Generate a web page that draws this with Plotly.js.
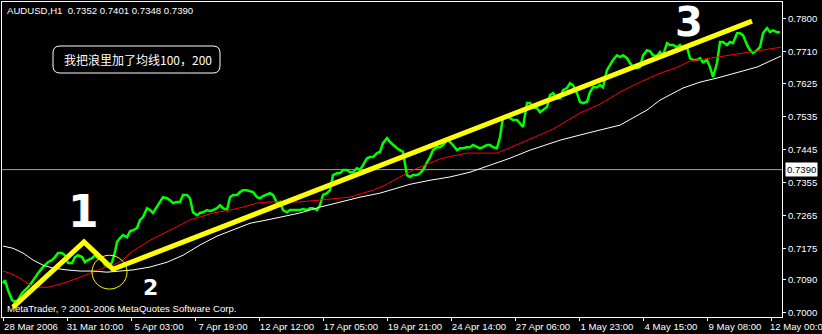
<!DOCTYPE html>
<html><head><meta charset="utf-8">
<script src="https://cdn.plot.ly/plotly-3.0.1.min.js"></script>
<style>html,body{margin:0;padding:0;background:#000;} #chart{width:822px;height:334px;}</style>
</head><body><div id="chart"></div>
<script>
// ---- data (bar index, price) ----
const priceBars = [3,5,8,10,12,15,18,22,25,28,
 32,35,38,42,45,48,52,55,58,62,
 65,68,72,75,78,82,85,88,92,95,
 98,102,105,108,110,112,115,117,120,123,
 127,130,133,137,140,143,147,150,153,157,
 160,163,167,170,173,177,180,183,187,190,
 193,197,200,203,207,210,213,217,220,223,
 227,230,233,237,240,243,247,250,253,257,
 260,263,267,270,273,277,280,283,287,290,
 293,297,300,303,307,310,313,317,320,323,
 327,330,333,337,340,343,347,350,353,357,
 360,363,367,370,373,377,380,383,387,390,
 393,397,400,403,407,410,413,417,420,423,
 427,430,433,437,440,443,447,450,453,457,
 460,463,467,470,473,477,480,483,487,490,
 493,497,500,503,507,510,513,517,520,523,
 527,530,533,537,540,543,547,550,553,557,
 560,563,567,570,573,577,580,583,587,590,
 593,597,600,603,607,610,613,617,620,623,
 627,630,633,637,640,643,647,650,653,657,
 660,663,667,670,673,677,680,683,687,690,
 693,697,700,703,707,710,713,717,720,723,
 727,730,733,737,740,743,747,750,753,757,
 760,763,767,770,773,777,780];
const priceClose = [0.7081,0.7089,0.7062,0.7049,0.7035,0.7030,0.7035,0.7054,0.7062,0.7070,
 0.7084,0.7097,0.7108,0.7122,0.7130,0.7138,0.7144,0.7152,0.7163,0.7163,
 0.7157,0.7136,0.7136,0.7152,0.7157,0.7152,0.7138,0.7144,0.7149,0.7157,
 0.7149,0.7144,0.7130,0.7125,0.7130,0.7138,0.7166,0.7193,0.7204,0.7212,
 0.7206,0.7222,0.7225,0.7231,0.7253,0.7261,0.7285,0.7280,0.7272,0.7288,
 0.7302,0.7315,0.7312,0.7307,0.7299,0.7302,0.7302,0.7321,0.7321,0.7312,
 0.7274,0.7266,0.7272,0.7274,0.7280,0.7277,0.7280,0.7285,0.7293,0.7285,
 0.7280,0.7315,0.7321,0.7321,0.7329,0.7334,0.7334,0.7332,0.7329,0.7315,
 0.7312,0.7318,0.7323,0.7326,0.7321,0.7299,0.7302,0.7280,0.7274,0.7280,
 0.7280,0.7280,0.7280,0.7283,0.7280,0.7285,0.7285,0.7280,0.7293,0.7321,
 0.7326,0.7334,0.7375,0.7380,0.7380,0.7389,0.7389,0.7383,0.7383,0.7394,
 0.7389,0.7402,0.7421,0.7424,0.7424,0.7435,0.7438,0.7462,0.7476,0.7465,
 0.7457,0.7448,0.7443,0.7438,0.7375,0.7370,0.7375,0.7375,0.7380,0.7389,
 0.7410,0.7424,0.7443,0.7451,0.7451,0.7457,0.7470,0.7465,0.7457,0.7443,
 0.7448,0.7448,0.7451,0.7451,0.7457,0.7451,0.7448,0.7451,0.7457,0.7457,
 0.7451,0.7448,0.7478,0.7533,0.7538,0.7530,0.7525,0.7525,0.7516,0.7506,
 0.7571,0.7571,0.7560,0.7557,0.7546,0.7552,0.7560,0.7593,0.7598,0.7584,
 0.7584,0.7606,0.7612,0.7625,0.7620,0.7598,0.7574,0.7571,0.7574,0.7601,
 0.7614,0.7614,0.7620,0.7614,0.7661,0.7674,0.7688,0.7701,0.7696,0.7701,
 0.7693,0.7680,0.7669,0.7666,0.7669,0.7701,0.7715,0.7712,0.7701,0.7699,
 0.7710,0.7701,0.7734,0.7729,0.7729,0.7723,0.7729,0.7720,0.7723,0.7693,
 0.7688,0.7688,0.7693,0.7682,0.7688,0.7669,0.7642,0.7680,0.7737,0.7737,
 0.7729,0.7737,0.7734,0.7761,0.7761,0.7756,0.7729,0.7715,0.7707,0.7715,
 0.7723,0.7761,0.7775,0.7764,0.7769,0.7764,0.7764];

const ma100Bars = [3,10,20,30,38,48,57,67,80,93,103,113,123,130,150,170,190,200,213,230,243,257,270,300,320,333,350,363,373,383,393,400,413,427,440,453,467,483,497,507,517,530,553,580,600,620,640,660,675,690,717,750,781];
const ma100 = [0.7114,0.7108,0.7095,0.7076,0.7070,0.7070,0.7076,0.7084,0.7097,0.7111,0.7122,0.7130,0.7144,0.7163,0.7198,0.7225,0.7253,0.7261,0.7272,0.7280,0.7288,0.7299,0.7302,0.7302,0.7307,0.7310,0.7315,0.7326,0.7334,0.7345,0.7361,0.7370,0.7389,0.7405,0.7419,0.7427,0.7435,0.7435,0.7435,0.7446,0.7457,0.7473,0.7500,0.7544,0.7568,0.7601,0.7628,0.7652,0.7666,0.7685,0.7696,0.7710,0.7723];

const ma200Bars = [3,13,23,33,43,53,67,80,93,107,120,133,150,167,183,200,217,233,250,267,280,300,320,340,360,380,395,410,430,450,470,490,510,530,560,587,620,647,660,683,700,717,737,757,781];
const ma200 = [0.7182,0.7176,0.7163,0.7144,0.7130,0.7122,0.7117,0.7114,0.7114,0.7111,0.7114,0.7117,0.7125,0.7138,0.7157,0.7185,0.7209,0.7226,0.7244,0.7253,0.7261,0.7272,0.7288,0.7302,0.7315,0.7326,0.7337,0.7350,0.7361,0.7370,0.7383,0.7402,0.7421,0.7443,0.7470,0.7489,0.7511,0.7552,0.7579,0.7612,0.7628,0.7639,0.7655,0.7669,0.7699];

const trendBars = [13,84,113,752];
const trendPrice = [0.7016,0.7193,0.7119,0.7794];

const xTickBars = [3,67,131,195,259,323,387,451,515,579,643,707,771];
const xTickLabels = ['28 Mar 2006','31 Mar 10:00','5 Apr 03:00','7 Apr 19:00','12 Apr 12:00','17 Apr 05:00','19 Apr 21:00','24 Apr 14:00','27 Apr 06:00','1 May 23:00','4 May 15:00','9 May 08:00','12 May 00:00'];
const yTickVals = [0.7800,0.7710,0.7625,0.7535,0.7445,0.7355,0.7265,0.7175,0.7090,0.7000];
const bidPrice = 0.7390;
const headerText = 'AUDUSD,H1  0.7352 0.7401 0.7348 0.7390';
const noteText = '我把浪里加了均线100，200';
const copyText = 'MetaTrader, ? 2001-2006 MetaQuotes Software Corp.';

// ---- layout helpers (pixel -> paper) ----
const L = 2, R = 40, T = 2, B = 17, W = 822, H = 334;
const pw = W - L - R, ph = H - T - B;
const px = x => (x - L) / pw;
const py = y => (H - B - y) / ph;
function roundRect(x0, y0, x1, y1, r) {
  const rx = r / pw, ry = r / ph;
  const a = px(x0), b = px(x1), top = py(y0), bot = py(y1);
  return `M${a+rx},${top} L${b-rx},${top} Q${b},${top} ${b},${top-ry} L${b},${bot+ry} Q${b},${bot} ${b-rx},${bot} L${a+rx},${bot} Q${a},${bot} ${a},${bot+ry} L${a},${top-ry} Q${a},${top} ${a+rx},${top} Z`;
}

const FONT = 'Liberation Sans, Arial, sans-serif';

const traces = [
  {x: priceBars, y: priceClose, type: 'scatter', mode: 'lines', line: {color: '#00ff00', width: 2.5}, hoverinfo: 'skip'},
  {x: ma100Bars, y: ma100, type: 'scatter', mode: 'lines', line: {color: '#ff0000', width: 1}, hoverinfo: 'skip'},
  {x: ma200Bars, y: ma200, type: 'scatter', mode: 'lines', line: {color: '#ffffff', width: 1}, hoverinfo: 'skip'},
  {x: trendBars, y: trendPrice, type: 'scatter', mode: 'lines', line: {color: '#ffff00', width: 5}, hoverinfo: 'skip'}
];

const layout = {
  width: W, height: H,
  margin: {l: L, r: R, t: T, b: B, pad: 0},
  paper_bgcolor: '#000', plot_bgcolor: '#000',
  showlegend: false,
  font: {family: FONT, size: 9.6, color: '#fff'},
  xaxis: {
    range: [2, 782], showgrid: false, zeroline: false,
    showline: true, linecolor: '#fff', linewidth: 1, mirror: true,
    tickmode: 'array', tickvals: xTickBars, ticktext: xTickLabels,
    ticks: 'outside', ticklen: 3, tickcolor: '#fff', tickwidth: 1,
    ticklabelshift: 28, ticklabelstandoff: -3, ticklabeloverflow: 'allow',
    tickfont: {family: FONT, size: 9.6, color: '#fff'}
  },
  yaxis: {
    range: [0.6989, 0.7846], side: 'right', showgrid: false, zeroline: false,
    showline: true, linecolor: '#fff', linewidth: 1, mirror: true,
    tickmode: 'array', tickvals: yTickVals, tickformat: '.4f',
    ticks: 'outside', ticklen: 3, tickcolor: '#fff', tickwidth: 1,
    tickfont: {family: FONT, size: 9.6, color: '#fff'}
  },
  shapes: [
    {type: 'line', xref: 'paper', x0: 0, x1: 1, yref: 'y', y0: bidPrice, y1: bidPrice, line: {color: '#a0a0a0', width: 1}, layer: 'below'},
    {type: 'circle', xref: 'x', yref: 'y', x0: 92, x1: 127, y0: 0.7065, y1: 0.7157, line: {color: '#ffff00', width: 1}},
    {type: 'path', xref: 'paper', yref: 'paper', path: roundRect(53, 46, 220, 73, 7), line: {color: '#fff', width: 1}, fillcolor: 'rgba(0,0,0,0)'}
  ],
  annotations: [
    {text: headerText, xref: 'paper', yref: 'paper', x: px(5), y: py(10), xanchor: 'left', yanchor: 'middle', showarrow: false, font: {family: FONT, size: 9.6, color: '#fff'}},
    {text: copyText, xref: 'paper', yref: 'paper', x: px(5), y: py(308), xanchor: 'left', yanchor: 'middle', showarrow: false, font: {family: FONT, size: 9.6, color: '#fff'}},
    {text: noteText, xref: 'paper', yref: 'paper', x: px(62), y: py(59.5), xanchor: 'left', yanchor: 'middle', showarrow: false, font: {family: 'Noto Sans CJK SC, sans-serif', size: 12, color: '#fff'}},
    {text: bidPrice.toFixed(4), xref: 'paper', yref: 'y', x: px(785), y: bidPrice, xanchor: 'left', yanchor: 'middle', showarrow: false, bgcolor: '#fff', borderpad: 1, font: {family: FONT, size: 9.6, color: '#000'}},
    {text: '<b>1</b>', xref: 'x', yref: 'y', x: 83, y: 0.7275, showarrow: false, font: {family: 'DejaVu Sans', size: 44, color: '#fff'}},
    {text: '<b>2</b>', xref: 'x', yref: 'y', x: 150, y: 0.7068, showarrow: false, font: {family: 'DejaVu Sans', size: 22, color: '#fff'}},
    {text: '<b>3</b>', xref: 'x', yref: 'y', x: 689, y: 0.7791, showarrow: false, font: {family: 'DejaVu Sans', size: 40, color: '#fff'}}
  ]
};

Plotly.newPlot('chart', traces, layout, {staticPlot: true, displayModeBar: false});
</script>
</body></html>
